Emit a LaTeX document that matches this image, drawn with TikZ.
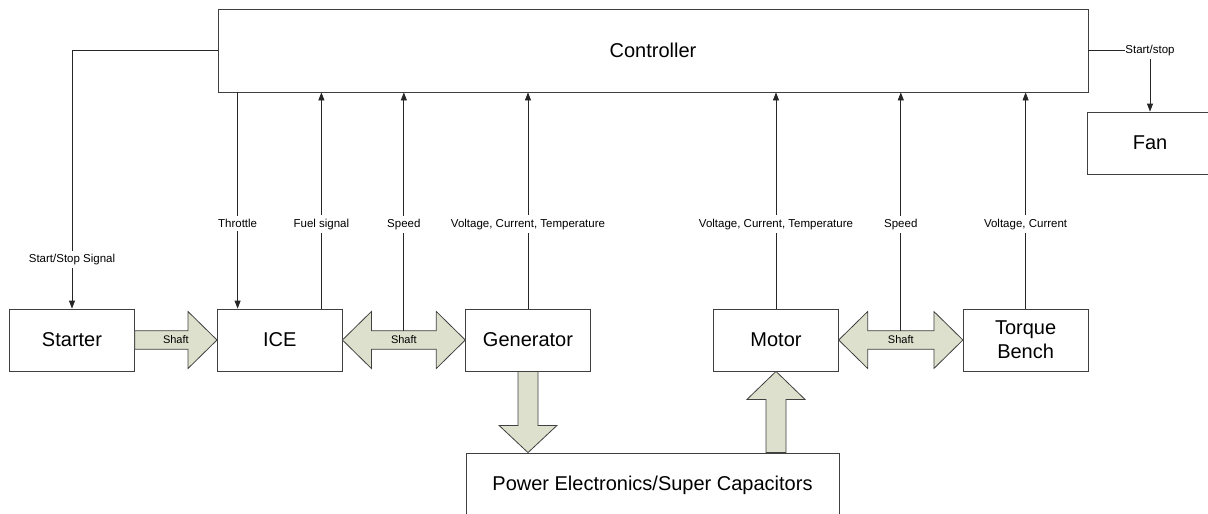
\documentclass[tikz,border=0pt]{standalone}
\usepackage{fontspec}
\setmainfont{Liberation Sans}
\usetikzlibrary{arrows.meta,calc}
\definecolor{shaftgreen}{RGB}{221,224,204}
\definecolor{edgegray}{RGB}{64,64,64}

\begin{document}
\begin{tikzpicture}[x=1pt,y=-1pt,
  block/.style={draw=edgegray, fill=white, line width=0.8pt, minimum width=124.6pt, minimum height=62pt, inner sep=0pt, align=center, font=\fontsize{20}{24}\selectfont},
  sig/.style={draw=black!85, line width=0.8pt, -{Triangle[length=8pt,width=6pt]}},
  lbl/.style={fill=white, inner xsep=0.5pt, inner ysep=3.3pt, font=\fontsize{11.5}{13}\selectfont},
  shaft/.style={draw=edgegray, fill=shaftgreen, line width=0.8pt, line join=miter},
  shaftlbl/.style={inner sep=0pt, font=\fontsize{11}{13}\selectfont}]
\clip (0,0) rectangle (1208,514);

\node[block, minimum width=870pt, minimum height=83pt] (ctrl) at (653,50.5) {Controller};
\node[block] (fan) at (1150,143) {Fan};
\node[block] (starter) at (72,340) {Starter};
\node[block] (ice) at (279.7,340) {ICE};
\node[block] (gen) at (528,340) {Generator};
\node[block] (motor) at (776,340) {Motor};
\node[block] (torque) at (1025.6,340) {Torque\\Bench};
\node[block, minimum width=373pt, minimum height=64pt] (pe) at (652.5,485) {Power Electronics/Super Capacitors};

\draw[shaft] ([yshift=9.3pt]starter.east) -- ([xshift=-29pt,yshift=9.3pt]ice.west) -- ([xshift=-29pt,yshift=28.5pt]ice.west) -- (ice.west) -- ([xshift=-29pt,yshift=-28.5pt]ice.west) -- ([xshift=-29pt,yshift=-9.3pt]ice.west) -- ([yshift=-9.3pt]starter.east) -- cycle;
\node[shaftlbl] (s1) at ($(starter.east)!0.5!(ice.west)$) {Shaft};

\draw[shaft] (ice.east) -- ([xshift=29pt,yshift=28.5pt]ice.east) -- ([xshift=29pt,yshift=9.3pt]ice.east) -- ([xshift=-29pt,yshift=9.3pt]gen.west) -- ([xshift=-29pt,yshift=28.5pt]gen.west) -- (gen.west) -- ([xshift=-29pt,yshift=-28.5pt]gen.west) -- ([xshift=-29pt,yshift=-9.3pt]gen.west) -- ([xshift=29pt,yshift=-9.3pt]ice.east) -- ([xshift=29pt,yshift=-28.5pt]ice.east) -- cycle;
\node[shaftlbl] (s2) at ($(ice.east)!0.5!(gen.west)$) {Shaft};

\draw[shaft] (motor.east) -- ([xshift=29pt,yshift=28.5pt]motor.east) -- ([xshift=29pt,yshift=9.3pt]motor.east) -- ([xshift=-29pt,yshift=9.3pt]torque.west) -- ([xshift=-29pt,yshift=28.5pt]torque.west) -- (torque.west) -- ([xshift=-29pt,yshift=-28.5pt]torque.west) -- ([xshift=-29pt,yshift=-9.3pt]torque.west) -- ([xshift=29pt,yshift=-9.3pt]motor.east) -- ([xshift=29pt,yshift=-28.5pt]motor.east) -- cycle;
\node[shaftlbl] (s3) at ($(motor.east)!0.5!(torque.west)$) {Shaft};

\draw[shaft] ([xshift=-10pt]gen.south) -- ([xshift=-10pt,yshift=-54pt]gen.south) -- ([xshift=-29pt,yshift=-54pt]gen.south) -- (gen.south |- pe.north) -- ([xshift=29pt,yshift=-54pt]gen.south) -- ([xshift=10pt,yshift=-54pt]gen.south) -- ([xshift=10pt]gen.south) -- cycle;
\draw[shaft] ([xshift=-10pt]motor.south |- pe.north) -- ([xshift=-10pt,yshift=-28pt]motor.south) -- ([xshift=-29pt,yshift=-28pt]motor.south) -- (motor.south) -- ([xshift=29pt,yshift=-28pt]motor.south) -- ([xshift=10pt,yshift=-28pt]motor.south) -- ([xshift=10pt]motor.south |- pe.north) -- cycle;

\coordinate (thr) at ([xshift=20.6pt]ice.north west);
\coordinate (fuel) at ([xshift=-21pt]ice.north east);
\coordinate (spd1) at ($(ice.east)!0.5!(gen.west)+(0,-9.3)$);
\coordinate (spd2) at ($(motor.east)!0.5!(torque.west)+(0,-9.3)$);

\draw[sig] (ctrl.west) -| (starter.north) node[lbl, pos=0.905] {Start/Stop Signal};
\draw[sig] (ctrl.south -| thr) -- (thr) node[lbl, pos=0.608] {Throttle};
\draw[sig] (fuel) -- (ctrl.south -| fuel) node[lbl, pos=0.391] {Fuel signal};
\draw[sig] (spd1) -- (ctrl.south -| spd1) node[lbl, pos=0.446] {Speed};
\draw[sig] (gen.north) -- (ctrl.south -| gen.north) node[lbl, pos=0.391] {Voltage, Current, Temperature};
\draw[sig] (motor.north) -- (ctrl.south -| motor.north) node[lbl, pos=0.391] {Voltage, Current, Temperature};
\draw[sig] (spd2) -- (ctrl.south -| spd2) node[lbl, pos=0.446] {Speed};
\draw[sig] (torque.north) -- (ctrl.south -| torque.north) node[lbl, pos=0.391] {Voltage, Current};
\draw[sig] (ctrl.east) -| (fan.north) node[lbl, pos=0.5] {Start/stop};
\end{tikzpicture}
\end{document}
